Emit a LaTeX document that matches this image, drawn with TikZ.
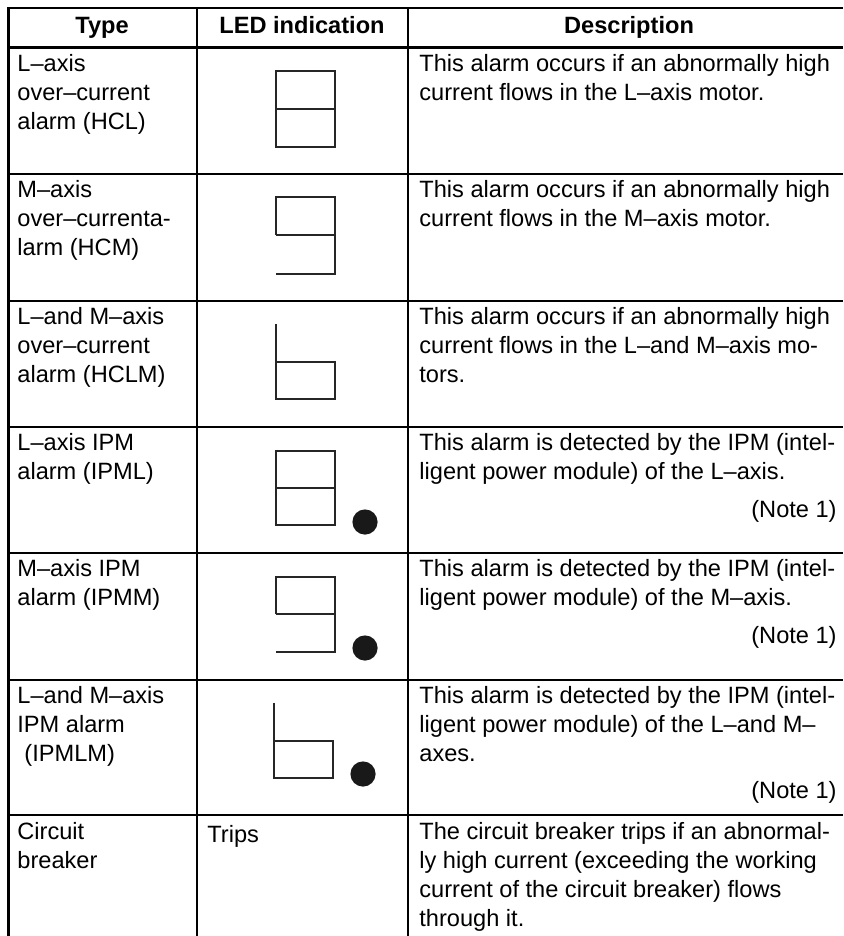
\documentclass[tikz,border=0pt]{standalone}
\usepackage{fontspec}
\setmainfont{Liberation Sans}
\tikzset{
  cell/.style = {anchor = north west, align = left, inner sep = 0pt, font = \fontsize{11.8}{14.5}\selectfont, execute at begin node = \strut},
  head/.style = {anchor = base, inner sep = 0pt, font = \fontsize{11.8}{14.5}\selectfont\bfseries},
  note/.style = {anchor = base east, inner sep = 0pt, font = \fontsize{11.8}{14.5}\selectfont},
  seg/.style = {line width = .6pt, black!85},
  ledon/.style = {fill = black!90},
}

\begin{document}
\begin{tikzpicture}[x = .5pt, y = -.5pt]
  \useasboundingbox (0,0) rectangle (843,936);
  % rules of the table
  \draw [line width = 1.3pt] (7,8) -- (843,8);
  \draw [line width = 1.5pt] (7,48) -- (843,48);
  \foreach \y in {174,301,427,553,680,815}
    \draw [line width = 1pt] (8,\y) -- (843,\y);
  \draw [line width = 1.5pt] (8,7) -- (8,936);
  \draw [line width = 1pt] (197,8) -- (197,936);
  \draw [line width = 1pt] (408,8) -- (408,936);
  % header
  \node [head] (hType) at (102,34) {Type};
  \node [head] (hLed) at (302,34) {LED indication};
  \node [head] (hDesc) at (629,34) {Description};
  % HCL
  \node [cell] (tHCL) at (17,54) {L--axis\\over--current\\alarm (HCL)};
  \draw [seg] (276,71) rectangle ++(59,76) (276,109) --++ (59,0);
  \node [cell] (dHCL) at (419,54) {This alarm occurs if an abnormally high\\current flows in the L--axis motor.};
  % HCM
  \node [cell] (tHCM) at (17,180) {M--axis\\over--currenta-\\larm (HCM)};
  \draw [seg] (276,235) |- (335,197) |- (276,274) (276,235) --++ (59,0);
  \node [cell] (dHCM) at (419,180) {This alarm occurs if an abnormally high\\current flows in the M--axis motor.};
  % HCLM
  \node [cell] (tHCLM) at (17,307) {L--and M--axis\\over--current\\alarm (HCLM)};
  \draw [seg] (276,324) |- (335,399) |- (276,362);
  \node [cell] (dHCLM) at (419,307) {This alarm occurs if an abnormally high\\current flows in the L--and M--axis mo-\\tors.};
  % IPML
  \node [cell] (tIPML) at (17,433) {L--axis IPM\\alarm (IPML)};
  \draw [seg] (276,451) rectangle ++(59,74) (276,488) --++ (59,0);
  \fill [ledon] (365,522) circle [radius = 6.3pt];
  \node [cell] (dIPML) at (419,433) {This alarm is detected by the IPM (intel-\\ligent power module) of the L--axis.};
  \node [note] (nIPML) at (837,517) {(Note 1)};
  % IPMM
  \node [cell] (tIPMM) at (17,559) {M--axis IPM\\alarm (IPMM)};
  \draw [seg] (276,614) |- (335,577) |- (276,652) (276,614) --++ (59,0);
  \fill [ledon] (365,648) circle [radius = 6.3pt];
  \node [cell] (dIPMM) at (419,559) {This alarm is detected by the IPM (intel-\\ligent power module) of the M--axis.};
  \node [note] (nIPMM) at (837,643) {(Note 1)};
  % IPMLM
  \node [cell] (tIPMLM) at (17,686) {L--and M--axis\\IPM alarm\\\hspace*{.3em}(IPMLM)};
  \draw [seg] (274,703) |- (333,778) |- (274,741);
  \fill [ledon] (363,774) circle [radius = 6.3pt];
  \node [cell] (dIPMLM) at (419,686) {This alarm is detected by the IPM (intel-\\ligent power module) of the L--and M--\\axes.};
  \node [note] (nIPMLM) at (837,798) {(Note 1)};
  % circuit breaker
  \node [cell] (tCB) at (17,822) {Circuit\\breaker};
  \node [cell] (lCB) at (207,822) {Trips};
  \node [cell] (dCB) at (419,822) {The circuit breaker trips if an abnormal-\\ly high current (exceeding the working\\current of the circuit breaker) flows\\through it.};
\end{tikzpicture}
\end{document}
